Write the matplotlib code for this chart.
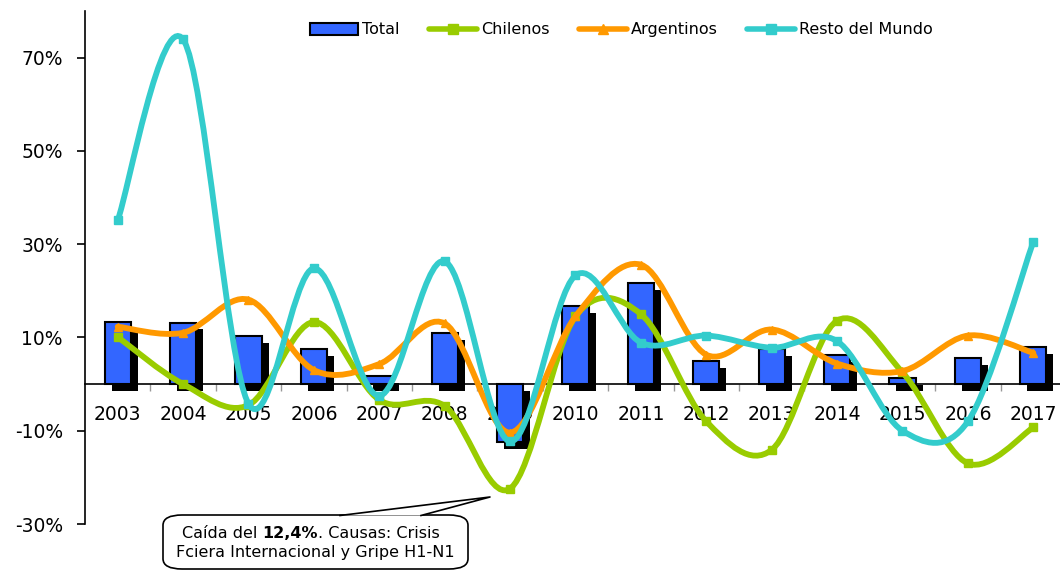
import numpy as np
import matplotlib
matplotlib.use("Agg")
import matplotlib.pyplot as plt
from matplotlib.path import Path
from matplotlib.patches import PathPatch, FancyBboxPatch, Polygon, Patch
from matplotlib.lines import Line2D
from matplotlib import patheffects as pe

years = [str(y) for y in range(2003, 2018)]
total = [13.4, 13.2, 10.4, 7.6, 1.8, 11.0, -12.4, 16.8, 21.7, 4.9, 7.5, 6.3, 1.2, 5.5, 8.0]
chilenos = [10.1, 0.0, -4.5, 13.3, -3.4, -4.7, -22.4, 14.5, 15.0, -8.0, -14.1, 13.6, 2.5, -17.0, -9.3]
argentinos = [12.3, 11.0, 18.1, 3.0, 4.3, 13.0, -10.4, 14.5, 25.6, 6.3, 11.7, 4.4, 2.8, 10.4, 6.7]
resto = [35.1, 73.9, -4.2, 24.8, -2.5, 26.3, -12.3, 23.3, 8.9, 10.4, 7.8, 9.2, -10.0, -8.0, 30.5]
yticks = [-30, -10, 10, 30, 50, 70]

W, H = 1060, 571
fig = plt.figure(figsize=(W / 100, H / 100), dpi=100)
ax = fig.add_axes([85 / W, 1 - 524 / H, 981 / W, 513 / H])

x = np.arange(len(years))


def smooth_path(xs, ys):
    # Excel-like smoothed line: cubic bezier segments (Catmull-Rom)
    pts = np.column_stack([xs, ys]).astype(float)
    ext = np.vstack([pts[0], pts, pts[-1]])
    verts = [pts[0]]
    codes = [Path.MOVETO]
    for i in range(len(pts) - 1):
        p0, p1, p2, p3 = ext[i], ext[i + 1], ext[i + 2], ext[i + 3]
        verts += [p1 + (p2 - p0) / 6, p2 - (p3 - p1) / 6, p2]
        codes += [Path.CURVE4] * 3
    return Path(verts, codes)


bars = ax.bar(x, total, width=0.4, color="#3366FF", edgecolor="black",
              linewidth=1.5, zorder=2)
for b in bars:
    b.set_path_effects([pe.SimplePatchShadow(offset=(5, -5),
                                             shadow_rgbFace="black", alpha=1),
                        pe.Normal()])

series = [("Chilenos", chilenos, "#99CC00", "s"),
          ("Argentinos", argentinos, "#FF9900", "^"),
          ("Resto del Mundo", resto, "#33CCCC", "s")]
handles = [Patch(facecolor="#3366FF", edgecolor="black", linewidth=1.5, label="Total")]
for i, (name, vals, col, mk) in enumerate(series):
    ax.add_patch(PathPatch(smooth_path(x, vals), fill=False, edgecolor=col,
                           linewidth=4.2, capstyle="round", zorder=3 + i))
    ax.plot(x, vals, linestyle="none", marker=mk, markersize=5.5, color=col,
            zorder=3 + i)
    handles.append(Line2D([], [], color=col, linewidth=4, marker=mk,
                          markersize=7, solid_capstyle="round", label=name))

ax.set_xlim(-0.5, len(years) - 0.5)
ax.set_ylim(-30, 80)
ax.set_yticks(yticks)
ax.set_yticklabels([f"{v}%" for v in yticks])
ax.set_xticks(x)
ax.set_xticklabels(years)
ax.set_xticks(x[:-1] + 0.5, minor=True)

for s in ["top", "right"]:
    ax.spines[s].set_visible(False)
ax.spines["bottom"].set_position(("data", 0))
ax.spines["bottom"].set_linewidth(1.2)
ax.spines["left"].set_linewidth(1.2)
ax.tick_params(axis="x", which="major", length=0, pad=15, labelsize=13.5,
               colors="black")
ax.tick_params(axis="x", which="minor", length=5, color="#999999", width=1)
ax.tick_params(axis="y", length=6, width=1.2, pad=10, labelsize=13.5)

ax.legend(handles=handles, loc="center", bbox_to_anchor=(0.547, 0.963),
          ncol=4, frameon=False, fontsize=11.5, handlelength=3.0,
          handletextpad=0.25, columnspacing=1.85, handleheight=0.75)

# callout box (figure pixel coords)
def fx(px):
    return px / W


def fy(py):
    return 1 - py / H


tf = fig.transFigure
box = FancyBboxPatch((fx(163), fy(569)), fx(468) - fx(163), fy(515) - fy(569),
                     boxstyle="round,pad=0,rounding_size=0.018",
                     transform=tf, facecolor="white",
                     edgecolor="black", linewidth=1.2, zorder=10, clip_on=False)
ax.add_patch(box)
tail = [(fx(340), fy(515.5)), (fx(490), fy(497)), (fx(421), fy(515.5))]
ax.add_patch(Polygon(tail, closed=True, transform=tf, facecolor="white",
                     edgecolor="none", zorder=11, clip_on=False))
ax.add_line(Line2D([t[0] for t in tail], [t[1] for t in tail], transform=tf,
                   color="black", linewidth=1.2, zorder=12, clip_on=False))

fs = 11.5
t1 = ax.text(fx(182), fy(533), "Caída del ", fontsize=fs, va="center",
             ha="left", zorder=13, transform=tf, clip_on=False)
t2 = ax.annotate("12,4%", xy=(1, 0), xycoords=t1, va="bottom", ha="left",
                 fontsize=fs, fontweight="bold", zorder=13,
                 annotation_clip=False)
ax.annotate(". Causas: Crisis", xy=(1, 0), xycoords=t2, va="bottom", ha="left",
            fontsize=fs, zorder=13, annotation_clip=False)
ax.text(fx(315.5), fy(553), "Fciera Internacional y Gripe H1-N1",
        fontsize=fs, va="center", ha="center", zorder=13, transform=tf,
        clip_on=False)

fig.savefig("out.png", dpi=100)
